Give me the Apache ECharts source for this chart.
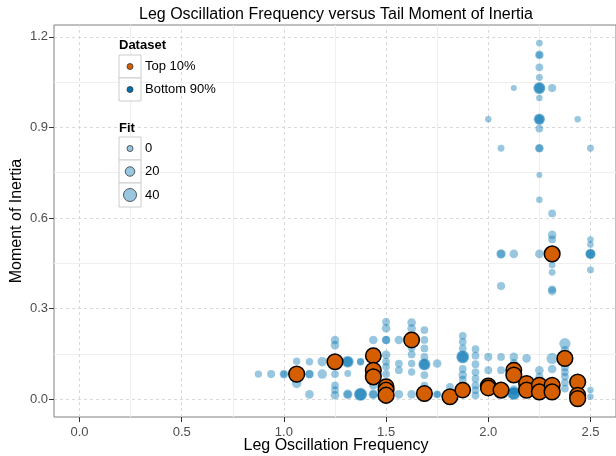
<!DOCTYPE html>
<html>
<head>
<meta charset="utf-8">
<script src="https://cdn.jsdelivr.net/npm/echarts@6/dist/echarts.min.js"></script>
<style>
  html, body { margin: 0; padding: 0; background: #fff; }
  #main { width: 616px; height: 456px; }
</style>
</head>
<body>
<div id="main"></div>
<script>
// bottom 90% (blue)
const bottomFreq = [
  0.875, 0.9375, 1.0, 1.0, 1.0625, 1.0625, 1.0625, 1.125, 1.125, 1.125, 1.125, 1.1875, 1.1875,
  1.25, 1.25, 1.25, 1.25, 1.25, 1.25, 1.25, 1.3125, 1.3125, 1.3125, 1.3125, 1.3125,
  1.375, 1.375, 1.375, 1.375, 1.4375, 1.4375, 1.4375, 1.4375, 1.4375,
  1.5, 1.5, 1.5, 1.5, 1.5, 1.5, 1.5, 1.5, 1.5, 1.5625, 1.5625, 1.5625, 1.5625,
  1.625, 1.625, 1.625, 1.625, 1.625, 1.625, 1.625,
  1.6875, 1.6875, 1.6875, 1.6875, 1.6875, 1.6875, 1.6875, 1.6875, 1.75, 1.75, 1.75, 1.8125,
  1.875, 1.875, 1.875, 1.875, 1.875, 1.875, 1.875, 1.875, 1.875,
  1.9375, 1.9375, 1.9375, 1.9375, 1.9375, 1.9375, 1.9375, 1.9375,
  2.0, 2.0, 2.0625, 2.0625, 2.125, 2.125, 2.125, 2.125, 2.125, 2.1875, 2.1875,
  2.25, 2.25, 2.25, 2.3125, 2.3125, 2.375, 2.375, 2.375, 2.375, 2.375, 2.375, 2.375,
  2.4375, 2.5, 2.5,
  2.25, 2.25, 2.25, 2.25, 2.25, 2.25, 2.25, 2.25, 2.25, 2.25, 2.25, 2.25, 2.25, 2.25, 2.25, 2.25,
  2.125, 2.125, 2.3125, 2.3125, 2.3125, 2.3125, 2.3125, 2.3125, 2.3125, 2.3125,
  2.0, 2.4375, 2.0625, 2.0625, 2.0625, 2.0625, 2.5, 2.5, 2.5, 2.5, 2.5, 2.5,
  1.3125, 1.375, 1.6875, 1.875, 2.125, 2.25, 2.25, 2.5
]
const bottomInertia = [
  0.083, 0.083, 0.083, 0.083, 0.126, 0.052, 0.083, 0.124, 0.083, 0.083, 0.016, 0.124, 0.083,
  0.196, 0.179, 0.083, 0.046, 0.03, 0.013, 0.124, 0.124, 0.124, 0.085, 0.016, 0.016,
  0.124, 0.124, 0.016, 0.016, 0.196, 0.124, 0.046, 0.016, 0.016,
  0.256, 0.235, 0.196, 0.196, 0.147, 0.124, 0.107, 0.083, 0.05, 0.196, 0.118, 0.096, 0.016,
  0.254, 0.234, 0.17, 0.148, 0.118, 0.09, 0.016,
  0.229, 0.196, 0.168, 0.14, 0.115, 0.115, 0.08, 0.045, 0.118, 0.016, 0.016, 0.041,
  0.21, 0.19, 0.168, 0.14, 0.14, 0.1, 0.08, 0.065, 0.045,
  0.166, 0.144, 0.116, 0.09, 0.068, 0.046, 0.03, 0.013,
  0.14, 0.096, 0.14, 0.096, 0.14, 0.12, 0.019, 0.019, 0.03, 0.135, 0.06,
  0.096, 0.075, 0.01, 0.135, 0.1, 0.184, 0.162, 0.105, 0.09, 0.075, 0.055, 0.035,
  0.07, 0.03, 0.008,
  1.179, 1.14, 1.14, 1.099, 1.065, 1.03, 1.03, 0.997, 0.927, 0.927, 0.896, 0.831, 0.831, 0.742, 0.66, 0.481,
  1.03, 0.481, 1.03, 0.615, 0.544, 0.529, 0.444, 0.42, 0.364, 0.358,
  0.927, 0.927, 0.831, 0.481, 0.481, 0.375, 0.831, 0.529, 0.512, 0.481, 0.481, 0.428,
  0.124, 0.016, 0.115, 0.14, 0.019, 1.03, 0.927, 0.481
]
const bottomFit = [
  8, 12, 15, 5, 8, 20, 10, 8, 15, 10, 15, 20, 20,
  15, 15, 10, 10, 10, 15, 10, 35, 20, 5, 20, 10,
  8, 5, 40, 30, 15, 10, 15, 20, 10,
  10, 15, 15, 10, 15, 10, 10, 10, 10, 15, 10, 10, 15,
  15, 15, 10, 10, 8, 8, 15,
  10, 10, 10, 10, 35, 20, 10, 10, 15, 10, 5, 10,
  10, 10, 10, 40, 25, 10, 15, 10, 10,
  10, 10, 10, 10, 10, 10, 10, 10,
  12, 10, 10, 10, 15, 10, 40, 30, 20, 15, 10,
  15, 10, 15, 30, 15, 30, 15, 10, 10, 10, 10, 10,
  10, 3, 3,
  5, 15, 5, 10, 5, 35, 20, 3, 30, 15, 10, 15, 8, 0, 3, 15,
  0, 15, 12, 10, 15, 10, 5, 5, 10, 15,
  3, 3, 5, 20, 10, 12, 5, 3, 3, 25, 15, 5,
  25, 35, 30, 35, 35, 30, 25, 20
]

// top 10% (orange)
const topFreq = [
  1.0625, 1.25, 1.4375, 1.4375, 1.4375, 1.5, 1.5, 1.5, 1.625, 1.6875, 1.8125, 1.875,
  2.0, 2.0, 2.0625, 2.125, 2.125, 2.1875, 2.1875, 2.25, 2.25, 2.3125, 2.3125, 2.3125,
  2.375, 2.4375, 2.4375, 2.4375
]
const topInertia = [
  0.083, 0.124, 0.144, 0.096, 0.074, 0.041, 0.03, 0.013, 0.196, 0.019, 0.008, 0.03,
  0.044, 0.037, 0.03, 0.096, 0.08, 0.052, 0.03, 0.046, 0.024, 0.046, 0.024, 0.481,
  0.135, 0.057, 0.013, 0.002
]
const topFit = [
  56, 55, 54, 55, 55, 54, 55, 56, 54, 55, 55, 53,
  54, 53, 55, 54, 55, 55, 56, 54, 55, 55, 56, 55,
  55, 55, 55, 56
]

const xTicks = [0, 0.5, 1, 1.5, 2, 2.5]
const xMinor = [0.25, 0.75, 1.25, 1.75, 2.25]
const yTicks = [0, 0.3, 0.6, 0.9, 1.2]
const yMinor = [0.15, 0.45, 0.75, 1.05]

const FONT = '"Liberation Sans", Arial, sans-serif'
const fitSize = f => 6 + 0.175 * f

const bottomData = bottomFreq.map((x, i) => [x, bottomInertia[i], bottomFit[i]])
const topData = topFreq.map((x, i) => [x, topInertia[i], topFit[i]])

const chart = echarts.init(document.getElementById('main'), null, {renderer: 'canvas'})

// grid lines drawn as mark lines: minor solid, major dashed
const minorLines = xMinor.map(v => ({xAxis: v})).concat(yMinor.map(v => ({yAxis: v})))
const majorLines = xTicks.map(v => ({xAxis: v})).concat(yTicks.map(v => ({yAxis: v})))
const gridSeries = (name, lines, lineStyle, z) => ({
  name: name,
  type: 'scatter',
  data: [],
  silent: true,
  z: z,
  markLine: {
    silent: true, symbol: ['none', 'none'], z: z, animation: false,
    label: {show: false},
    emphasis: {disabled: true},
    lineStyle: lineStyle,
    data: lines
  }
})

// legend boxes
const legendX = 119
const keyW = 22
const graphics = []
const addTitle = (txt, y) => graphics.push({
  type: 'text', left: legendX, top: y, z: 100,
  style: {text: txt, font: 'bold 13px ' + FONT, fill: '#000'}
})
const addBox = (y, h) => graphics.push({
  type: 'rect', shape: {x: legendX, y: y, width: keyW, height: h}, z: 100,
  style: {fill: '#fff', stroke: '#cccccc', lineWidth: 1}
})
const addLabel = (txt, y) => graphics.push({
  type: 'text', x: legendX + keyW + 4, y: y, z: 100,
  style: {text: txt, font: '13px ' + FONT, fill: '#000', textVerticalAlign: 'middle'}
})
const addDot = (y, r, fill) => graphics.push({
  type: 'circle', shape: {cx: legendX + keyW / 2, cy: y, r: r}, z: 101,
  style: {fill: fill, stroke: '#333', lineWidth: 0.8}
})

addTitle('Dataset', 39)
addBox(55, 23); addBox(78, 23)
addDot(66.5, 3, '#D55E00'); addDot(89.5, 3, '#0072B2')
addLabel('Top 10%', 66.5); addLabel('Bottom 90%', 89.5)

addTitle('Fit', 122)
addBox(137, 23); addBox(160, 23); addBox(183, 24)
const fitKeys = [0, 20, 40]
const fitKeyY = [148.5, 171.5, 195]
fitKeys.forEach((f, i) => {
  addDot(fitKeyY[i], fitSize(f) / 2, '#99c7e0')
  addLabel(String(f), fitKeyY[i])
})

// titles
graphics.push({
  type: 'text', x: 336, y: 15, z: 100,
  style: {text: 'Leg Oscillation Frequency versus Tail Moment of Inertia', font: '16px ' + FONT,
    fill: '#000', textAlign: 'center', textVerticalAlign: 'middle'}
})
graphics.push({
  type: 'text', x: 336, y: 446, z: 100,
  style: {text: 'Leg Oscillation Frequency', font: '16px ' + FONT,
    fill: '#000', textAlign: 'center', textVerticalAlign: 'middle'}
})
graphics.push({
  type: 'text', x: 17, y: 221, rotation: Math.PI / 2, z: 100,
  style: {text: 'Moment of Inertia', font: '16px ' + FONT,
    fill: '#000', textAlign: 'center', textVerticalAlign: 'middle'}
})

const option = {
  animation: false,
  backgroundColor: '#fff',
  grid: {
    left: 54, top: 25, width: 565, height: 392,
    show: true, borderColor: '#808080', borderWidth: 1, backgroundColor: '#fff',
    containLabel: false
  },
  xAxis: {
    type: 'value', min: -0.125, max: 2.625,
    axisLine: {show: false, onZero: false},
    axisTick: {show: true, length: 5, lineStyle: {color: '#333'}, customValues: xTicks},
    axisLabel: {show: true, customValues: xTicks, color: '#4d4d4d', fontSize: 13, fontFamily: FONT, margin: 9,
      formatter: v => v.toFixed(1)},
    splitLine: {show: false}
  },
  yAxis: {
    type: 'value', min: -0.059, max: 1.239,
    axisLine: {show: false, onZero: false},
    axisTick: {show: true, length: 5, lineStyle: {color: '#333'}, customValues: yTicks},
    axisLabel: {show: true, customValues: yTicks, color: '#4d4d4d', fontSize: 13, fontFamily: FONT, margin: 6,
      formatter: v => v.toFixed(1)},
    splitLine: {show: false}
  },
  series: [
    gridSeries('minor', minorLines, {color: '#efefef', type: 'solid', width: 1}, 1),
    gridSeries('major', majorLines, {color: '#d9d9d9', type: [3, 3], width: 1}, 1),
    {
      name: 'Bottom 90%',
      type: 'scatter',
      data: bottomData,
      symbolSize: v => fitSize(v[2]),
      itemStyle: {color: '#0072B2', opacity: 0.4},
      z: 2
    },
    {
      name: 'Top 10%',
      type: 'scatter',
      data: topData,
      symbolSize: v => fitSize(v[2]),
      itemStyle: {color: '#D55E00', borderColor: '#000', borderWidth: 1.5, opacity: 1},
      z: 3
    }
  ],
  graphic: graphics
}

chart.setOption(option)
</script>
</body>
</html>
